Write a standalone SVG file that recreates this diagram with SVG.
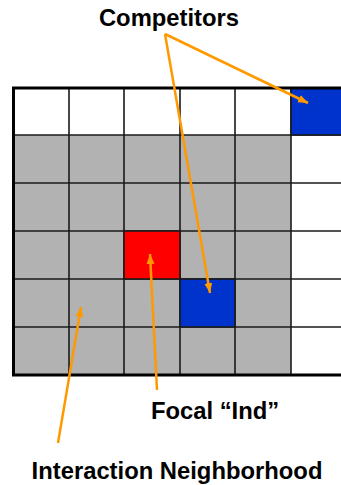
<svg xmlns="http://www.w3.org/2000/svg" width="341" height="485" viewBox="0 0 341 485">
<style>
.lbl{font-family:"Liberation Sans",Arial,sans-serif;font-weight:bold;font-size:23.8px;fill:#000;text-anchor:middle}
.cell{stroke:none}
.g{fill:#b2b2b2}
.w{fill:#fff}
.gl{stroke:#1a1a1a;stroke-width:1.6;fill:none}
.border{stroke:#000;stroke-width:3;fill:none}
.arr{stroke:#ff9900;stroke-width:2.5;fill:none;marker-end:url(#ah)}
</style>
<defs>
<marker id="ah" markerUnits="userSpaceOnUse" markerWidth="12" markerHeight="10" refX="10" refY="4" orient="auto">
<path d="M0,0 L10,4 L0,8 Z" fill="#ff9900"/>
</marker>
</defs>
<rect width="341" height="485" fill="#fff"/>
<g id="grid">
<rect class="cell w" x="13" y="88" width="333" height="47"/>
<rect class="cell g" x="13" y="135" width="278" height="240"/>
<rect class="cell w" x="291" y="135" width="55" height="240"/>
<g class="gl">
<line x1="69" y1="88" x2="69" y2="375"/>
<line x1="124" y1="88" x2="124" y2="375"/>
<line x1="180" y1="88" x2="180" y2="375"/>
<line x1="235" y1="88" x2="235" y2="375"/>
<line x1="291" y1="88" x2="291" y2="375"/>
<line x1="13" y1="135" x2="341" y2="135"/>
<line x1="13" y1="183" x2="341" y2="183"/>
<line x1="13" y1="231" x2="341" y2="231"/>
<line x1="13" y1="279" x2="341" y2="279"/>
<line x1="13" y1="327" x2="341" y2="327"/>
</g>
</g>
<g id="competitor-top">
<rect x="291" y="88" width="55" height="47" fill="#0033cc" stroke="#1a1a1a" stroke-width="1.6"/>
</g>
<g id="focal-ind">
<rect x="124" y="231" width="56" height="48" fill="#ff0000" stroke="#1a1a1a" stroke-width="1.6"/>
</g>
<g id="competitor-near">
<rect x="180" y="279" width="55" height="48" fill="#0033cc" stroke="#1a1a1a" stroke-width="1.6"/>
</g>
<g id="border">
<path class="border" d="M346,88 H13.5 V375 H346"/>
</g>
<g id="connectors">
<line class="arr" x1="165" y1="34" x2="308" y2="103"/>
<line class="arr" x1="165" y1="34" x2="210" y2="293"/>
<line class="arr" x1="157" y1="390" x2="150" y2="254"/>
<line class="arr" x1="58" y1="443" x2="81" y2="307"/>
</g>
<g id="labels">
<text class="lbl" x="169" y="25.5">Competitors</text>
<text class="lbl" x="215" y="418.5">Focal “Ind”</text>
<text class="lbl" x="177" y="478.5">Interaction Neighborhood</text>
</g>
</svg>
